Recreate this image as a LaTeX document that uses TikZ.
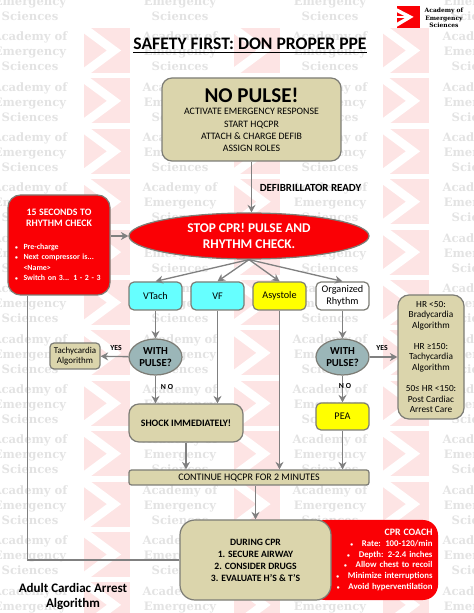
\documentclass[tikz,border=0pt]{standalone}
\usepackage{fontspec}
\usepackage{xcolor}
\usepackage{tikz}
\usetikzlibrary{shapes.geometric, arrows.meta, calc}
\setmainfont{Carlito}
\newfontfamily\wmfont{DejaVu Serif}
\definecolor{boxkhaki}{RGB}{219, 213, 172}
\definecolor{boxedge}{RGB}{125, 125, 118}
\definecolor{linegray}{RGB}{128, 128, 128}
\definecolor{alarmred}{RGB}{250, 0, 5}
\definecolor{rhythmcyan}{RGB}{102, 255, 255}
\definecolor{rhythmyellow}{RGB}{255, 255, 0}
\definecolor{pulseteal}{RGB}{155, 182, 184}
\definecolor{tilepink}{RGB}{253, 228, 228}
\newcommand{\smalldot}{{\fontsize{3.2}{3}\selectfont\textbullet}}
\tikzstyle{khakibox} = [rectangle, rounded corners=0.2cm, draw=boxedge, fill=boxkhaki, line width=0.7pt, inner sep=0pt, align=center, font=\fontsize{5.6}{6.85}\selectfont]
\tikzstyle{rhythmbox} = [rectangle, rounded corners=0.1cm, draw=boxedge, line width=0.7pt, minimum width=1.06cm, minimum height=0.56cm, inner sep=0pt, align=center, font=\fontsize{5.8}{6.9}\selectfont]
\tikzstyle{pulsecheck} = [ellipse, draw=boxedge, fill=pulseteal, line width=0.7pt, minimum width=1.06cm, minimum height=0.72cm, inner sep=0pt, align=center, font=\bfseries\fontsize{6.1}{6.9}\selectfont]
\tikzstyle{arrow} = [-{Stealth[length=1.5mm, width=1.6mm]}, draw=linegray, line width=0.75pt]
\tikzstyle{wmtext} = [text=black!11, align=center, font=\wmfont\bfseries\fontsize{6.6}{8.55}\selectfont]
\tikzstyle{smalllabel} = [font=\bfseries\fontsize{4.4}{5}\selectfont, inner sep=0pt]

\begin{document}
\begin{tikzpicture}
    \useasboundingbox (0,0) rectangle (9.48,12.26);

    % Watermark
    \begin{scope}
        \clip (0,0) rectangle (9.48,12.26);
        \foreach \c in {0,1,2} {
            \foreach \r in {0,...,12} {
                \begin{scope}[shift={(1.68+\c*2.99, 10.8-\r*1.008)}]
                    \fill[tilepink] (0,0) rectangle (0.92,0.9);
                    \draw[white, line width=0.17cm] (-0.1,0.97) -- (0.6,0.45) -- (-0.1,-0.07);
                \end{scope}
            }
        }
        \foreach \c in {0,1,2,3} {
            \foreach \r in {0,...,12} {
                \node[wmtext] (wm-\c-\r) at (0.6+\c*3, 12.24-\r*1.008) {Academy of\\Emergency\\Sciences};
            }
        }
    \end{scope}

    % Logo
    \fill[alarmred] (7.93,11.7) rectangle (8.39,12.13);
    \draw[white, line width=0.07cm] (7.93,12.06) -- (8.2,11.92) -- (7.93,11.76);
    \draw[white, line width=0.05cm] (7.93,11.92) -- (8.15,11.92);
    \node[align=center, font=\wmfont\bfseries\fontsize{3.4}{4.2}\selectfont] (logotext) at (8.88,11.9) {Academy of\\Emergency\\Sciences};

    % Title
    \node[font=\bfseries\fontsize{10}{12}\selectfont] (title) at (5.0,11.34) {\underline{SAFETY FIRST: DON PROPER PPE}};

    % Main boxes
    \node[khakibox, minimum width=3.58cm, minimum height=1.66cm] (nopulse) at (5.03,9.87) {{\bfseries\fontsize{12}{13}\selectfont NO PULSE!}\\[0.4pt]ACTIVATE EMERGENCY RESPONSE\\START HQCPR\\ATTACH \& CHARGE DEFIB\\ASSIGN ROLES};
    \node[font=\bfseries\fontsize{6.2}{7}\selectfont] (ready) at (6.21,8.5) {DEFIBRILLATOR READY};
    \node[ellipse, draw=boxedge, fill=alarmred, text=white, line width=0.7pt, minimum width=4.8cm, minimum height=0.92cm, inner sep=0pt, align=center, font=\bfseries\fontsize{7.6}{8.9}\selectfont] (stop) at (4.98,7.54) {STOP CPR! PULSE AND\\RHYTHM CHECK.};
    \node[khakibox, fill=alarmred, text=white, minimum width=2.04cm, minimum height=2cm, rounded corners=0.25cm, text width=1.76cm, align=left, font=\bfseries\fontsize{4.5}{6}\selectfont] (countdown) at (1.18,7.36) {\makebox[1.76cm]{\fontsize{5.6}{6.2}\selectfont 15 SECONDS TO}\\\makebox[1.76cm]{\fontsize{5.6}{6.2}\selectfont RHYTHM CHECK}\\[7pt]\makebox[0.17cm][l]{\smalldot}Pre-charge\\\makebox[0.17cm][l]{\smalldot}Next compressor is...\\\makebox[0.17cm][l]{}<Name>\\\makebox[0.17cm][l]{\smalldot}Switch on 3... 1 - 2 - 3};

    % Rhythms
    \node[rhythmbox, fill=rhythmcyan] (vtach) at (3.11,6.34) {VTach};
    \node[rhythmbox, fill=rhythmcyan] (vf) at (4.35,6.34) {VF};
    \node[rhythmbox, fill=rhythmyellow] (asystole) at (5.59,6.34) {Asystole};
    \node[rhythmbox, fill=white] (organized) at (6.85,6.34) {Organized\\Rhythm};

    % Pulse checks
    \node[pulsecheck] (leftpulse) at (3.11,5.12) {WITH\\PULSE?};
    \node[pulsecheck] (rightpulse) at (6.85,5.12) {WITH\\PULSE?};
    \node[khakibox, minimum width=1cm, minimum height=0.52cm, rounded corners=0.08cm, font=\fontsize{5.1}{6}\selectfont] (tachy) at (1.5,5.14) {Tachycardia\\Algorithm};
    \node[khakibox, minimum width=1.32cm, minimum height=2.48cm, rounded corners=0.22cm, font=\fontsize{5.3}{6}\selectfont] (hrbox) at (8.62,5.12) {HR <50:\\Bradycardia\\Algorithm\\[6pt]HR ≥150:\\Tachycardia\\Algorithm\\[6pt]50≤ HR <150:\\Post Cardiac\\Arrest Care};
    \node[khakibox, minimum width=2.28cm, minimum height=0.76cm, font=\bfseries\fontsize{5.6}{6.2}\selectfont] (shock) at (3.72,3.8) {SHOCK IMMEDIATELY!};
    \node[rhythmbox, fill=rhythmyellow, minimum height=0.54cm] (pea) at (6.85,3.93) {PEA};
    \node[khakibox, minimum width=4.8cm, minimum height=0.3cm, rounded corners=0.05cm, font=\fontsize{5.7}{6.2}\selectfont] (continue) at (4.98,2.71) {CONTINUE HQCPR FOR 2 MINUTES};

    % CPR boxes
    \node[rectangle, rounded corners=0.3cm, fill=alarmred, text=white, minimum width=2.56cm, minimum height=1.6cm, inner xsep=0.11cm, text width=2.34cm, align=right, font=\bfseries\fontsize{5}{6.1}\selectfont] (coach) at (7.48,1.06) {{\fontsize{5.6}{6.1}\selectfont CPR COACH}\\\smalldot\quad Rate: 100-120/min\\\smalldot\quad Depth: 2-2.4 inches\\\smalldot\quad Allow chest to recoil\\\smalldot\quad Minimize interruptions\\\smalldot\quad Avoid hyperventilation};
    \node[khakibox, minimum width=3.02cm, minimum height=1.6cm, rounded corners=0.3cm, font=\bfseries\fontsize{5.5}{6.85}\selectfont] (during) at (5.11,1.06) {DURING CPR\\1. SECURE AIRWAY\\2. CONSIDER DRUGS\\3. EVALUATE H'S \& T'S};
    \node[align=center, font=\bfseries\fontsize{7.4}{8.6}\selectfont] (caption) at (1.46,0.33) {Adult Cardiac Arrest\\Algorithm};

    % Connectors
    \draw[arrow] (nopulse.south) -- (nopulse.south |- stop.north);
    \draw[arrow] (countdown.east |- stop.west) -- (stop.west);
    \draw[draw=linegray, line width=0.75pt] (during.west) -| ([xshift=0.4cm]countdown.south west);
    \foreach \n in {vtach, vf, asystole, organized} {
        \draw[arrow] (stop.south) -- (\n.north);
    }
    \draw[arrow] (vtach) -- (leftpulse);
    \draw[arrow] (organized) -- (rightpulse);
    \draw[arrow] (leftpulse) -- (tachy);
    \draw[arrow] (rightpulse) -- (rightpulse -| hrbox.west);
    \draw[arrow] (leftpulse) -- (leftpulse |- shock.north);
    \draw[arrow] (vf) -- (vf |- shock.north);
    \draw[arrow] (rightpulse) -- (pea);
    \draw[arrow] (shock) -- (shock |- continue.north);
    \draw[arrow] (asystole) -- (asystole |- continue.north);
    \draw[arrow] (pea) -- (pea |- continue.north);
    \draw[arrow] (during.north |- continue.south) -- (during.north);

    % Labels
    \node[smalllabel] (yesleft) at (2.32,5.3) {YES};
    \node[smalllabel] (yesright) at (7.64,5.3) {YES};
    \node[smalllabel] (noleft) at (3.34,4.52) {N O};
    \node[smalllabel] (noright) at (6.9,4.54) {N O};
\end{tikzpicture}
\end{document}
